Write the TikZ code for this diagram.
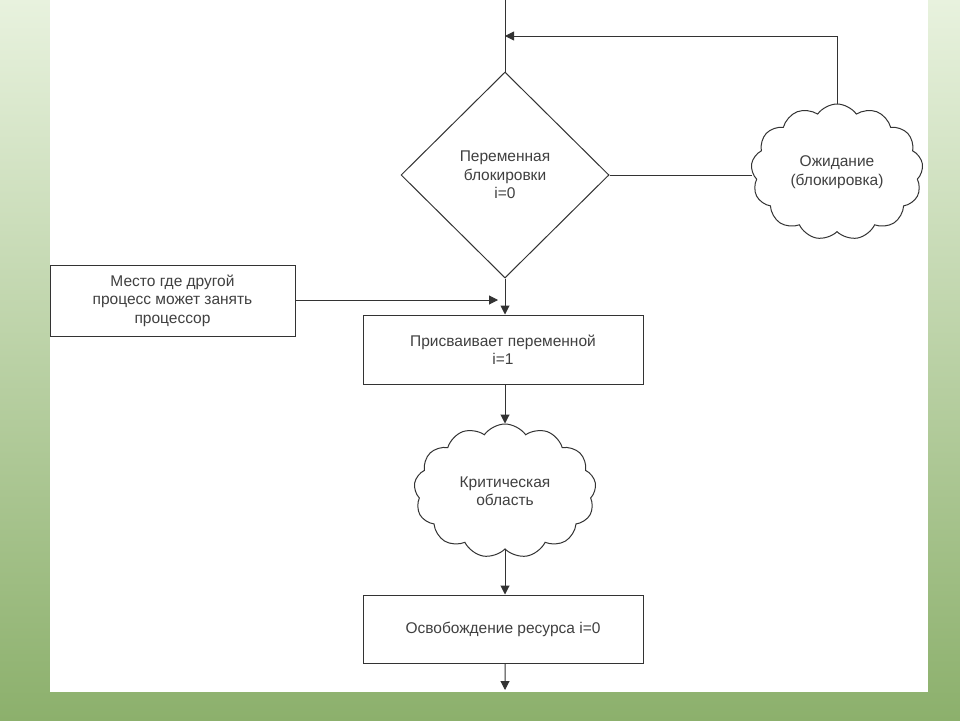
\documentclass[tikz,border=0pt]{standalone}
\usepackage{fontspec}
\setmainfont{Liberation Sans}
\usetikzlibrary{shapes.geometric,shapes.symbols,arrows.meta}
\begin{document}
\begin{tikzpicture}[x=1pt,y=-1pt,
  every node/.style={font=\fontsize{15.5}{18.5}\selectfont,text=black!75,align=center},
  box/.style={draw=black!80,line width=1pt,minimum width=#1,inner sep=0pt},
  cl/.style={cloud,cloud puffs=13,cloud puff arc=110,draw=black!80,line width=1pt,aspect=1.4,inner sep=0pt},
  ln/.style={draw=black!80,line width=1pt},
  ar/.style={ln,-{Triangle[length=9pt,width=9pt]}}]
\shade[top color={rgb,255:red,232;green,242;blue,222}, bottom color={rgb,255:red,140;green,176;blue,108}] (0,0) rectangle (960,720);
\fill[white] (50,0) rectangle (928,692);
\useasboundingbox (0,0) rectangle (960,720);
\coordinate (top) at (505,0);
\coordinate (j) at (505,36);
\coordinate (c) at (837,36);
\coordinate (m) at (498,300);
\coordinate (end) at (505,690);
\node[diamond,ln,minimum width=208pt,minimum height=206pt,inner sep=0pt] (d) at (505,175) {Переменная\\блокировки\\i=0};
\node[cl,minimum width=172pt,minimum height=136pt] (w) at (837,172) {Ожидание\\(блокировка)};
\node[box=245pt,minimum height=71pt] (l) at (172.5,300.5) {Место где другой\\процесс может занять\\процессор};
\node[box=280pt,minimum height=69pt] (p) at (503,349.5) {Присваивает переменной\\i=1};
\node[cl,minimum width=182pt,minimum height=134pt] (k) at (505,491) {Критическая\\область};
\node[box=280pt,minimum height=68pt] (r) at (503,629) {Освобождение ресурса i=0};
\draw[ln] (top) -- (d.north);
\draw[ln] (d.east) -- (d.east -| w.west);
\draw[ar] (w.north) -- (c) -- (j);
\draw[ar] (d.south) -- (p.north -| d.south);
\draw[ar] (l.east |- m) -- (m);
\draw[ar] (p.south -| d.south) -- (k.north);
\draw[ar] (k.south) -- (r.north -| k.south);
\draw[ar] (r.south -| k.south) -- (end);
\end{tikzpicture}
\end{document}
